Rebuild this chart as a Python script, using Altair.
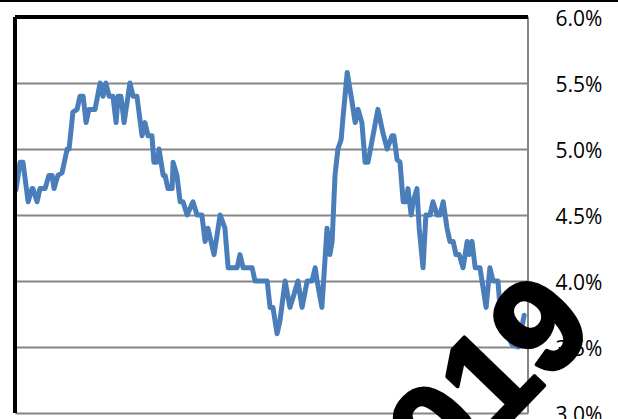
import altair as alt
import pandas as pd

week = [0.3, 1.6, 2.5, 4.1, 5.3, 5.6, 6.9, 7.8, 9.4, 10.6, 11.6, 12.2, 13.4, 14.7, 16.3, 16.9,
        18.1, 19.4, 20.3, 21.3, 22.2, 23.1, 25.0, 26.6, 27.5, 28.4, 29.4, 30.6, 31.6, 32.2, 33.1,
        34.1, 35.9, 36.9, 38.1, 39.7, 40.6, 41.6, 42.8, 43.4, 44.4, 45.0, 46.3, 46.9, 47.8, 49.1,
        49.4, 50.6, 51.6, 52.5, 53.8, 55.6, 56.9, 58.4, 59.4, 60.3, 62.2, 64.1, 65.6, 66.6, 69.4,
        70.3, 71.3, 74.1, 75.0, 78.8, 79.7, 80.6, 81.9, 82.8, 84.4, 85.9, 87.2, 88.4, 89.7, 91.3,
        92.8, 93.8, 94.4, 95.9, 97.5, 98.4, 99.1, 100.0, 100.9, 101.9, 102.5, 103.8, 105.3, 106.3,
        107.2, 108.4, 109.4, 110.3, 113.4, 115.0, 116.3, 117.8, 118.4, 119.4, 120.3, 121.3, 122.2,
        122.8, 123.8, 124.4, 125.6, 126.3, 127.5, 128.4, 129.7, 130.6, 131.9, 132.8, 133.8, 135.0,
        135.9, 136.9, 137.8, 138.8, 140.0, 141.3, 141.9, 142.8, 143.8, 145.3, 147.2, 148.4, 149.4,
        150.9, 151.9, 153.1, 155.3, 157.2, 159.1]
rate = [4.69, 4.9, 4.9, 4.6, 4.7, 4.7, 4.6, 4.7, 4.7, 4.8, 4.8, 4.7, 4.8, 4.82, 5.0, 5.0,
        5.28, 5.3, 5.4, 5.4, 5.2, 5.3, 5.3, 5.5, 5.4, 5.5, 5.4, 5.4, 5.2, 5.4, 5.4,
        5.2, 5.5, 5.4, 5.4, 5.1, 5.2, 5.1, 5.1, 4.9, 4.9, 5.0, 4.8, 4.8, 4.7, 4.7,
        4.9, 4.8, 4.6, 4.6, 4.5, 4.6, 4.5, 4.5, 4.3, 4.4, 4.2, 4.5, 4.4, 4.1, 4.1,
        4.2, 4.1, 4.1, 4.0, 4.0, 3.8, 3.8, 3.6, 3.7, 4.0, 3.8, 3.9, 4.0, 3.8, 4.0,
        4.0, 4.1, 4.0, 3.8, 4.4, 4.2, 4.3, 4.8, 5.0, 5.07, 5.24, 5.58, 5.36, 5.2,
        5.3, 5.2, 4.9, 4.9, 5.3, 5.12, 5.0, 5.1, 5.1, 4.92, 4.9, 4.6, 4.6,
        4.7, 4.5, 4.6, 4.7, 4.4, 4.1, 4.5, 4.5, 4.6, 4.5, 4.5, 4.6, 4.4,
        4.3, 4.3, 4.2, 4.2, 4.1, 4.3, 4.2, 4.3, 4.1, 4.1, 3.8, 4.1, 4.0,
        4.0, 3.7, 3.63, 3.52, 3.5, 3.74]
y_ticks = [3.0, 3.5, 4.0, 4.5, 5.0, 5.5, 6.0]
stamp = ["2019"]

df = pd.DataFrame({"week": week, "rate": rate})

W, H = 513, 396

line = alt.Chart(df).mark_line(
    color="#4a7ebb", strokeWidth=5, strokeCap="round", strokeJoin="round"
).encode(
    x=alt.X("week:Q", scale=alt.Scale(domain=[0, 160.3], nice=False, zero=False), axis=None),
    y=alt.Y("rate:Q", scale=alt.Scale(domain=[3.0, 6.0], nice=False, zero=False),
            axis=alt.Axis(orient="right", values=y_ticks, grid=True, gridColor="#868686",
                          gridWidth=2, ticks=False, domain=False, labelPadding=27,
                          labelAlign="left", labelBaseline="middle",
                          labelExpr="format(datum.value, '.1f') + '%'",
                          labelFont="Open Sans", labelFontSize=21, labelColor="#000000",
                          labelOffset=2, title=None)),
)

left = alt.Chart(df).mark_rule(color="#000000", strokeWidth=2.5).encode(
    x=alt.value(0), y=alt.value(0), y2=alt.value(H))
right = alt.Chart(df).mark_rule(color="#868686", strokeWidth=1.5).encode(
    x=alt.value(W), y=alt.value(0), y2=alt.value(H))
top = alt.Chart(df).mark_rule(color="#000000", strokeWidth=2.5).encode(
    x=alt.value(0), x2=alt.value(W), y=alt.value(0))
page_top = alt.Chart(df).mark_rule(color="#000000", strokeWidth=2).encode(
    x=alt.value(-15), x2=alt.value(603), y=alt.value(-16.5))

text = alt.Chart(pd.DataFrame({"t": stamp})).mark_text(
    font="Liberation Sans", fontWeight="bold", fontSize=132, color="#000000",
    stroke="#000000", strokeWidth=4, strokeJoin="round",
    angle=314, align="center", baseline="middle"
).encode(text="t:N", x=alt.value(452), y=alt.value(391))

chart = alt.layer(line, left, right, top, page_top, text).properties(
    width=W, height=H,
    padding={"left": 15, "top": 17, "right": 90, "bottom": 6},
    autosize=alt.AutoSizeParams(type="none"),
    background="#ffffff",
).configure_view(stroke=None)

chart.save("out.html", embed_options={"renderer": "svg", "actions": False})
